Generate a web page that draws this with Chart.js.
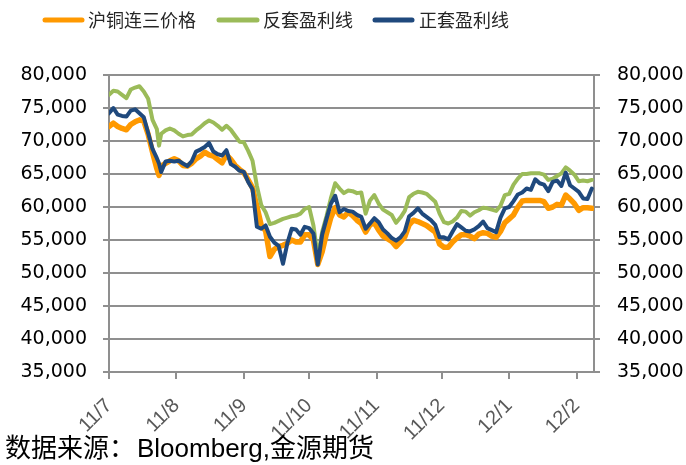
<!DOCTYPE html>
<html>
<head>
<meta charset="utf-8">
<script src="https://cdn.jsdelivr.net/npm/chart.js@4.4.1/dist/chart.umd.min.js"></script>
<style>
  html, body { margin: 0; padding: 0; background: #fff; }
  #wrap { width: 686px; height: 465px; }
</style>
</head>
<body>
<div id="wrap"><canvas id="chart" width="686" height="465"></canvas></div>
<script>
// sampled dates (roughly every other day)
const dates = [
  "2011-07-01","2011-07-03","2011-07-05","2011-07-07","2011-07-09","2011-07-11","2011-07-13","2011-07-15",
  "2011-07-17","2011-07-19","2011-07-21","2011-07-23","2011-07-24","2011-07-25","2011-07-27","2011-07-29","2011-07-31",
  "2011-08-02","2011-08-04","2011-08-06","2011-08-08","2011-08-10","2011-08-12","2011-08-14","2011-08-16",
  "2011-08-18","2011-08-20","2011-08-22","2011-08-24","2011-08-26","2011-08-28","2011-08-30",
  "2011-09-01","2011-09-03","2011-09-05","2011-09-07","2011-09-09","2011-09-11","2011-09-13","2011-09-15",
  "2011-09-17","2011-09-19","2011-09-21","2011-09-23","2011-09-25","2011-09-27","2011-09-29",
  "2011-10-01","2011-10-03","2011-10-05","2011-10-07","2011-10-09","2011-10-11","2011-10-13","2011-10-15",
  "2011-10-17","2011-10-19","2011-10-21","2011-10-23","2011-10-25","2011-10-27","2011-10-29","2011-10-31",
  "2011-11-02","2011-11-04","2011-11-06","2011-11-08","2011-11-10","2011-11-12","2011-11-14","2011-11-16",
  "2011-11-18","2011-11-20","2011-11-22","2011-11-24","2011-11-26","2011-11-28","2011-11-30",
  "2011-12-02","2011-12-04","2011-12-06","2011-12-08","2011-12-10","2011-12-12","2011-12-14","2011-12-16",
  "2011-12-18","2011-12-20","2011-12-22","2011-12-24","2011-12-26","2011-12-28","2011-12-30",
  "2012-01-01","2012-01-03","2012-01-05","2012-01-07","2012-01-09","2012-01-11","2012-01-13","2012-01-15",
  "2012-01-17","2012-01-19","2012-01-21","2012-01-23","2012-01-25","2012-01-27","2012-01-29","2012-01-31",
  "2012-02-02","2012-02-04","2012-02-06","2012-02-08"
];

// 沪铜连三价格
const copper3M = [
  72200,72700,72200,71900,71700,72500,72900,73200,73000,71000,68300,65800,64800,66200,66600,67000,67300,
  67000,66300,66200,66600,67300,67700,68300,67900,67700,67200,66700,67900,67200,66300,65700,
  65200,64100,62900,60100,57200,56400,52500,53600,54000,54200,54500,55000,54700,54700,55800,
  55800,55000,51300,53200,56000,58400,59900,58800,58500,59200,58700,58000,57500,56200,57300,57600,
  56500,55600,55200,54800,54000,54700,55500,57300,58000,57800,57500,57200,56700,56200,54400,
  53900,53900,54700,55300,55800,55800,55600,55200,55900,56100,56000,55600,55400,56300,57600,
  58200,58800,60000,60900,61000,61000,61000,61000,60800,59800,60000,60400,60300,61800,61200,60500,
  59500,59900,59900,59800
];

// 反套盈利线
const reverseArb = [
  77000,77600,77500,77000,76500,77800,78100,78300,77500,76400,73200,71800,69300,71100,71600,71900,71600,
  71100,70700,70900,71000,71600,72100,72700,73100,72800,72300,71700,72300,71700,70800,69900,
  69800,68500,67000,63200,60300,59200,57400,57600,57900,58200,58400,58600,58700,59000,59700,
  60000,57200,52500,56200,58600,61300,63600,62800,62100,62500,62400,62100,62200,59000,61000,61800,
  60500,59600,59200,58800,57600,58400,59400,61500,62000,62300,62200,62000,61400,60800,59000,
  57700,57500,57800,58400,59400,59300,58700,59200,59500,59900,59800,59600,59400,60200,61800,
  62000,63400,64300,65000,65000,65100,65100,65100,64900,64100,64300,64700,65100,66000,65500,64900,
  63900,64000,63900,64100
];

// 正套盈利线
const forwardArb = [
  74200,75000,74000,73800,73700,74600,74800,74200,73600,71200,68800,67400,66600,65300,66900,67000,66900,
  67000,66600,66200,66900,68400,68700,69100,69700,68400,68000,67800,68600,66500,66100,65500,
  65300,63800,62700,57000,56700,57200,55500,54600,54100,51400,54500,56700,56600,55800,57000,
  56800,56000,51300,55800,58200,60500,61700,59200,59700,59400,59300,58800,58500,56700,57500,58300,
  57700,56600,56000,55300,54900,55400,56300,58600,59100,59800,59000,58500,58000,57300,55400,
  55400,55100,56300,57400,56900,56400,56300,56600,57100,57800,56800,56500,56200,58400,59800,
  60000,60900,61900,62200,62800,62600,64200,63600,63400,62400,63800,64000,63200,65200,63300,62800,
  62300,61300,61200,62800
];

const monthStarts = ["2011-07-01","2011-08-01","2011-09-01","2011-10-01","2011-11-01","2011-12-01","2012-01-01","2012-02-01"];
const monthLabels = ["11/7","11/8","11/9","11/10","11/11","11/12","12/1","12/2"];
const yTicks = [35000, 40000, 45000, 50000, 55000, 60000, 65000, 70000, 75000, 80000];

const seriesNames = ["沪铜连三价格", "反套盈利线", "正套盈利线"];
const seriesColors = ["#FF9900", "#9BBB59", "#1F497D"];

const origin = Date.parse("2011-07-01");
const dayOf = s => (Date.parse(s) - origin) / 86400000;
const xDays = dates.map(dayOf);
const monthDays = monthStarts.map(dayOf);
const toPoints = vals => vals.map((v, i) => ({ x: xDays[i], y: v }));

const gridColor = "#8f8f8f";

const legendPlugin = {
  id: "manualLegend",
  afterDraw(chart) {
    const ctx = chart.ctx;
    const items = [
      { x0: 45, x1: 82, tx: 88 },
      { x0: 219, x1: 257, tx: 263 },
      { x0: 375, x1: 412, tx: 419 }
    ];
    ctx.save();
    ctx.font = '18px "Noto Sans CJK SC"';
    ctx.textBaseline = "middle";
    items.forEach((it, i) => {
      ctx.strokeStyle = seriesColors[i];
      ctx.lineWidth = 5;
      ctx.lineCap = "round";
      ctx.beginPath();
      ctx.moveTo(it.x0, 20);
      ctx.lineTo(it.x1, 20);
      ctx.stroke();
      ctx.fillStyle = "#262626";
      ctx.fillText(seriesNames[i], it.tx, 20);
    });
    // source note
    ctx.textBaseline = "alphabetic";
    ctx.fillStyle = "#000";
    let x = 5;
    const y = 457;
    ctx.font = '26px "Noto Sans CJK SC"';
    ctx.fillText("数据来源：", x, y);
    x += ctx.measureText("数据来源：").width + 2;
    ctx.font = '26px "Liberation Sans"';
    ctx.fillText("Bloomberg,", x, y);
    x += ctx.measureText("Bloomberg,").width;
    ctx.font = '26px "Noto Sans CJK SC"';
    ctx.fillText("金源期货", x, y);
    ctx.restore();
  }
};

const yAxis = (pos) => ({
  position: pos,
  min: 35000,
  max: 80000,
  afterBuildTicks: s => { s.ticks = yTicks.map(v => ({ value: v })); },
  afterFit: s => { s.width = pos === "left" ? 109 : 92; },
  grid: {
    color: gridColor,
    lineWidth: 2,
    tickLength: 6,
    drawOnChartArea: pos === "left"
  },
  border: { display: true, color: gridColor, width: 2 },
  ticks: {
    padding: pos === "left" ? 16 : 17,
    color: "#000",
    font: { family: "DejaVu Sans", size: 19 },
    callback: v => v.toLocaleString("en-US")
  }
});

new Chart(document.getElementById("chart"), {
  type: "line",
  data: {
    datasets: [
      { label: seriesNames[0], data: toPoints(copper3M), borderColor: seriesColors[0], borderWidth: 5.5, order: 2, yAxisID: "y" },
      { label: seriesNames[1], data: toPoints(reverseArb), borderColor: seriesColors[1], borderWidth: 4, order: 1, yAxisID: "y" },
      { label: seriesNames[2], data: toPoints(forwardArb), borderColor: seriesColors[2], borderWidth: 4, order: 0, yAxisID: "y" }
    ]
  },
  options: {
    responsive: false,
    animation: false,
    devicePixelRatio: 1,
    layout: { padding: { top: 75, left: 0, right: 0, bottom: 0 } },
    elements: { point: { radius: 0 }, line: { tension: 0, borderJoinStyle: "round", borderCapStyle: "round" } },
    plugins: { legend: { display: false }, tooltip: { enabled: false } },
    scales: {
      x: {
        type: "linear",
        min: 0,
        max: 223,
        afterBuildTicks: s => { s.ticks = monthDays.map(v => ({ value: v })); },
        afterFit: s => { s.height = 93; },
        grid: { drawOnChartArea: false, color: gridColor, lineWidth: 2, tickLength: 7 },
        border: { display: true, color: gridColor, width: 2 },
        ticks: {
          autoSkip: false,
          minRotation: 45,
          maxRotation: 45,
          padding: 15,
          color: "#595959",
          font: { family: "Liberation Sans", size: 20 },
          callback: v => monthLabels[monthDays.indexOf(v)]
        }
      },
      y: yAxis("left"),
      y2: yAxis("right")
    }
  },
  plugins: [legendPlugin]
});
</script>
</body>
</html>
